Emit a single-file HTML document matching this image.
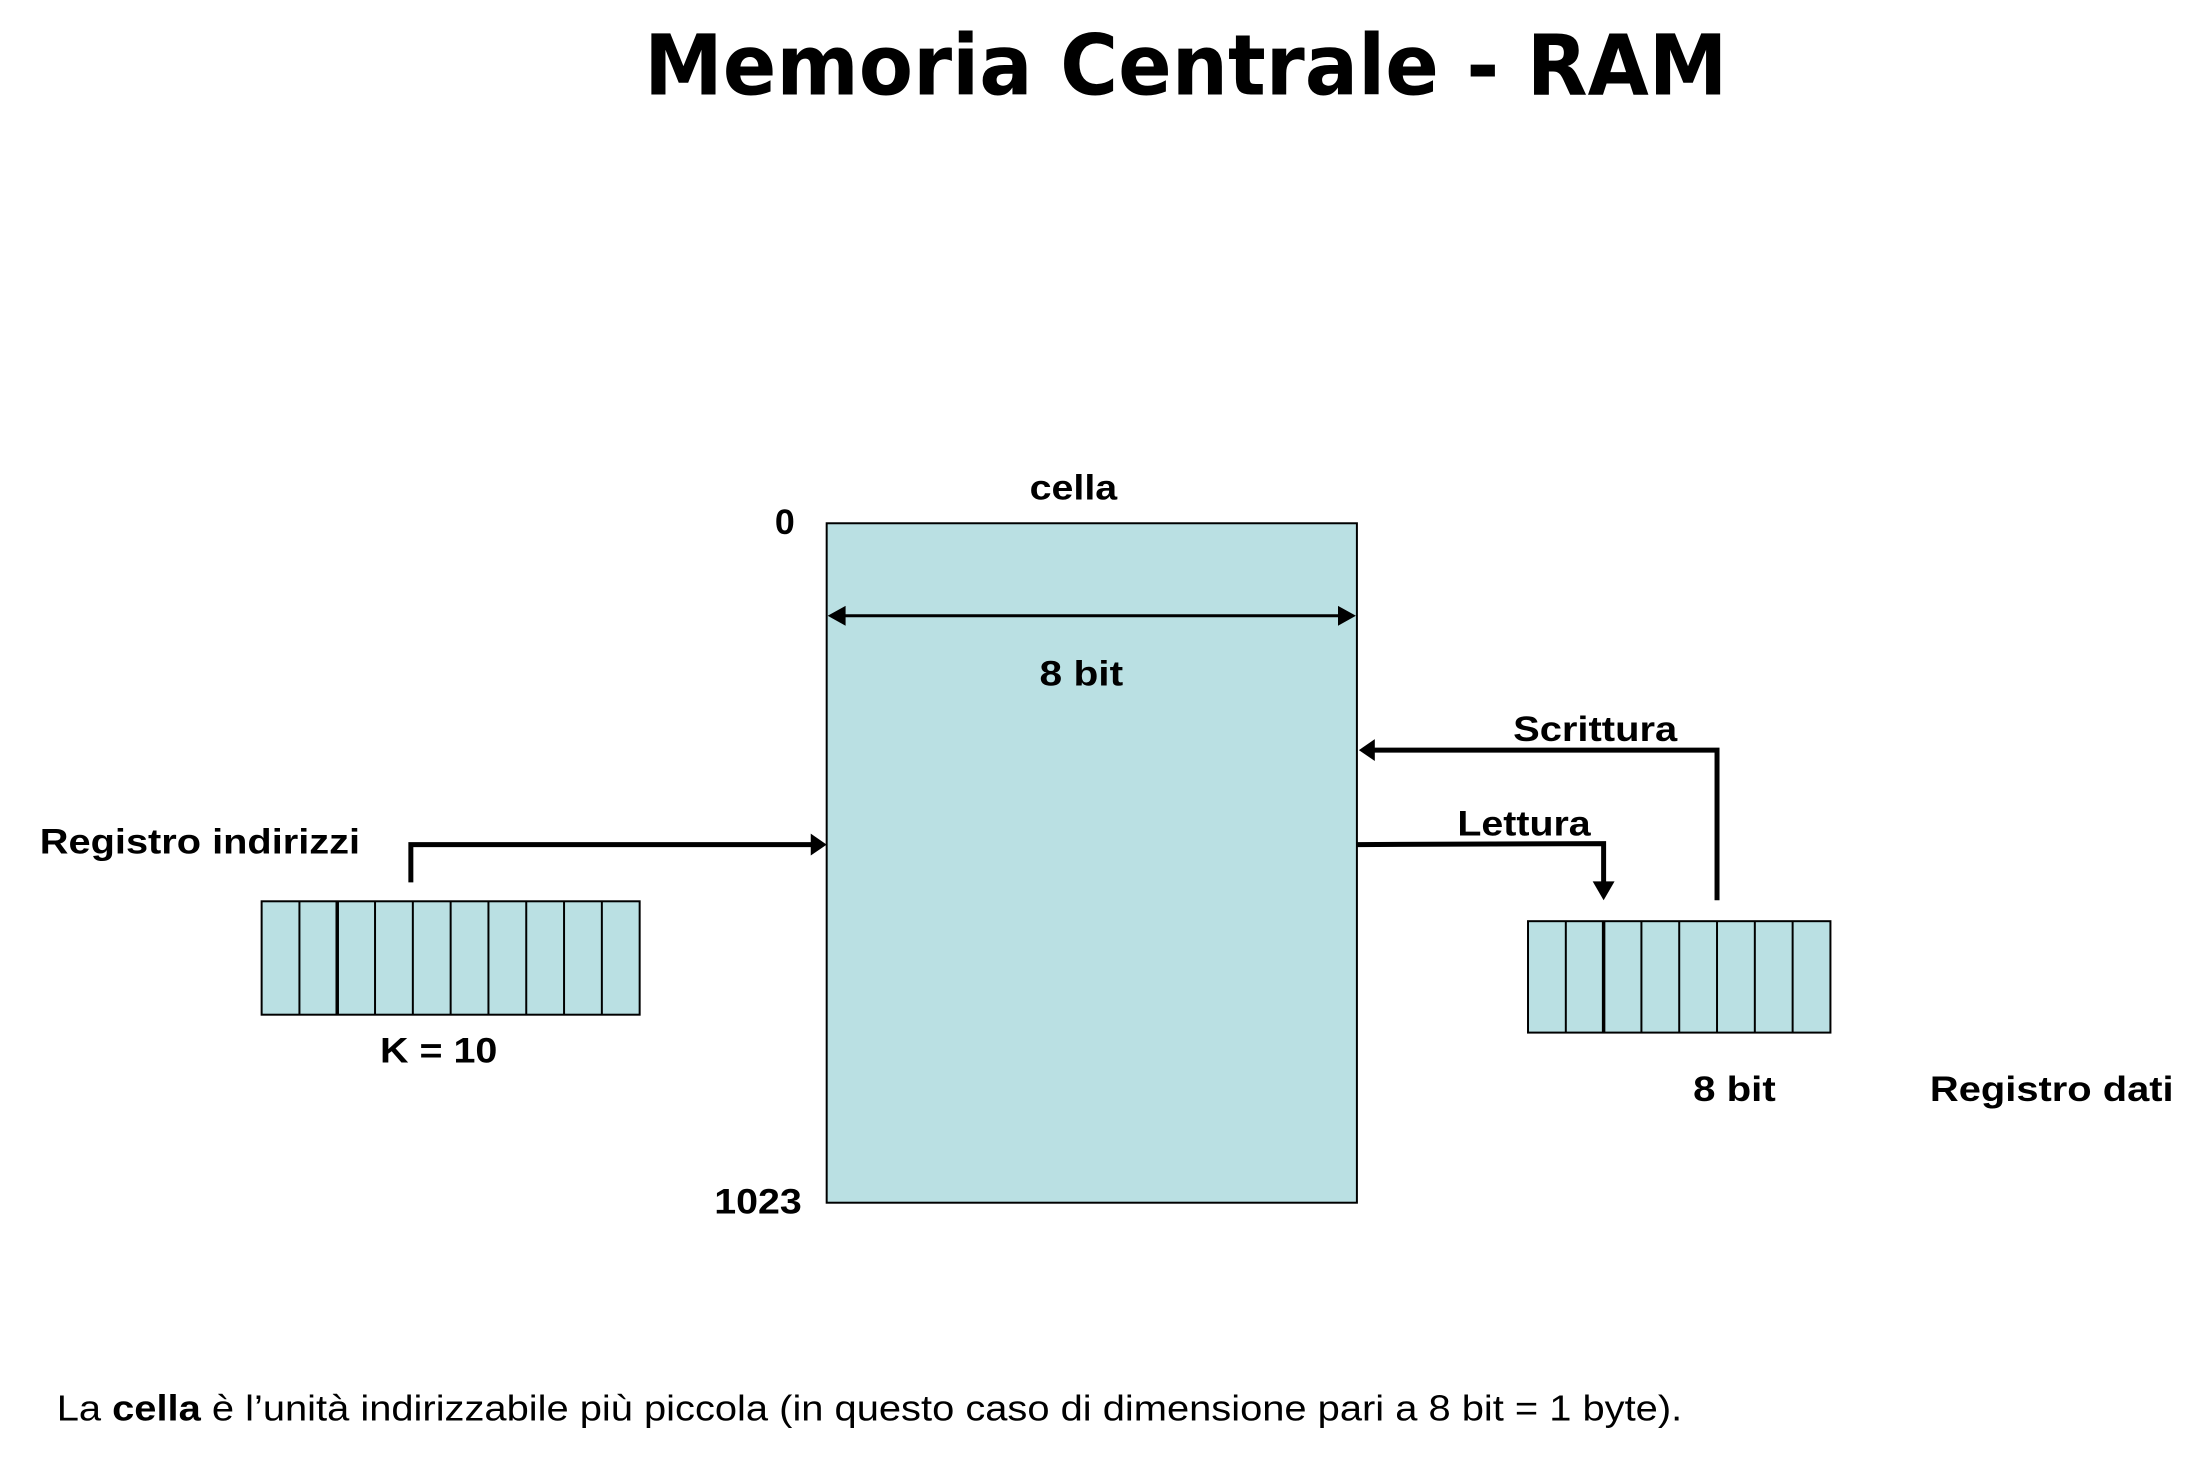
<!DOCTYPE html>
<html><head><meta charset="utf-8"><style>html,body{margin:0;padding:0;background:#fff}svg{display:block}</style></head><body>
<svg width="2204" height="1468" viewBox="0 0 2204 1468" xmlns="http://www.w3.org/2000/svg">
<g transform="scale(0.9948)">
<g font-family="'DejaVu Sans','Liberation Sans',sans-serif" font-weight="bold">
<text x="1192" y="95" font-size="84" text-anchor="middle" textLength="1089" lengthAdjust="spacingAndGlyphs">Memoria Centrale - RAM</text>
</g>
<rect x="831" y="526" width="533" height="683" fill="#bae0e3" stroke="#000" stroke-width="2"/>
<line x1="845" y1="619" x2="1350" y2="619" stroke="#000" stroke-width="3"/>
<path d="M832,619 L850,609 L850,629 z" fill="#000"/>
<path d="M1363,619 L1345,609 L1345,629 z" fill="#000"/>
<!-- address arrow -->
<polyline points="413,887 413,849 822,849" fill="none" stroke="#000" stroke-width="5"/>
<path d="M815,838 L831,849 L815,860 z" fill="#000"/>
<!-- scrittura -->
<polyline points="1726,905 1726,754 1378,754" fill="none" stroke="#000" stroke-width="5"/>
<path d="M1366,754 L1382,743 L1382,765 z" fill="#000"/>
<!-- lettura -->
<polyline points="1364,849 1612,848 1612,890" fill="none" stroke="#000" stroke-width="5"/>
<path d="M1601,886 L1623,886 L1612,905 z" fill="#000"/>
<!-- address register -->
<g stroke="#000" stroke-width="2" fill="#bae0e3">
<rect x="263" y="906" width="380" height="114"/>
<line x1="301" y1="906" x2="301" y2="1020"/>
<line x1="339" y1="906" x2="339" y2="1020" stroke-width="3.5"/>
<line x1="377" y1="906" x2="377" y2="1020"/>
<line x1="415" y1="906" x2="415" y2="1020"/>
<line x1="453" y1="906" x2="453" y2="1020"/>
<line x1="491" y1="906" x2="491" y2="1020"/>
<line x1="529" y1="906" x2="529" y2="1020"/>
<line x1="567" y1="906" x2="567" y2="1020"/>
<line x1="605" y1="906" x2="605" y2="1020"/>
</g>
<!-- data register -->
<g stroke="#000" stroke-width="2" fill="#bae0e3">
<rect x="1536" y="926" width="304" height="112"/>
<line x1="1574" y1="926" x2="1574" y2="1038"/>
<line x1="1612" y1="926" x2="1612" y2="1038" stroke-width="3.5"/>
<line x1="1650" y1="926" x2="1650" y2="1038"/>
<line x1="1688" y1="926" x2="1688" y2="1038"/>
<line x1="1726" y1="926" x2="1726" y2="1038"/>
<line x1="1764" y1="926" x2="1764" y2="1038"/>
<line x1="1802" y1="926" x2="1802" y2="1038"/>
</g>
<g font-family="'Liberation Sans',sans-serif" font-weight="bold" font-size="35" fill="#000">
<text x="1079" y="502" text-anchor="middle" textLength="88" lengthAdjust="spacingAndGlyphs">cella</text>
<text x="779" y="537" textLength="20" lengthAdjust="spacingAndGlyphs">0</text>
<text x="1087" y="689" text-anchor="middle" textLength="84" lengthAdjust="spacingAndGlyphs">8 bit</text>
<text x="1521" y="745" textLength="165" lengthAdjust="spacingAndGlyphs">Scrittura</text>
<text x="1465" y="840" textLength="134" lengthAdjust="spacingAndGlyphs">Lettura</text>
<text x="40" y="858" textLength="322" lengthAdjust="spacingAndGlyphs">Registro indirizzi</text>
<text x="441" y="1068" text-anchor="middle" textLength="118" lengthAdjust="spacingAndGlyphs">K = 10</text>
<text x="1702" y="1107" textLength="83" lengthAdjust="spacingAndGlyphs">8 bit</text>
<text x="1940" y="1107" textLength="245" lengthAdjust="spacingAndGlyphs">Registro dati</text>
<text x="718" y="1220" textLength="88" lengthAdjust="spacingAndGlyphs">1023</text>
</g>
<text x="57" y="1428" font-family="'Liberation Sans',sans-serif" font-size="36" fill="#000" textLength="1634" lengthAdjust="spacingAndGlyphs">La <tspan font-weight="bold">cella</tspan> è l’unità indirizzabile più piccola (in questo caso di dimensione pari a 8 bit = 1 byte).</text>
</g>
</svg>
</body></html>
